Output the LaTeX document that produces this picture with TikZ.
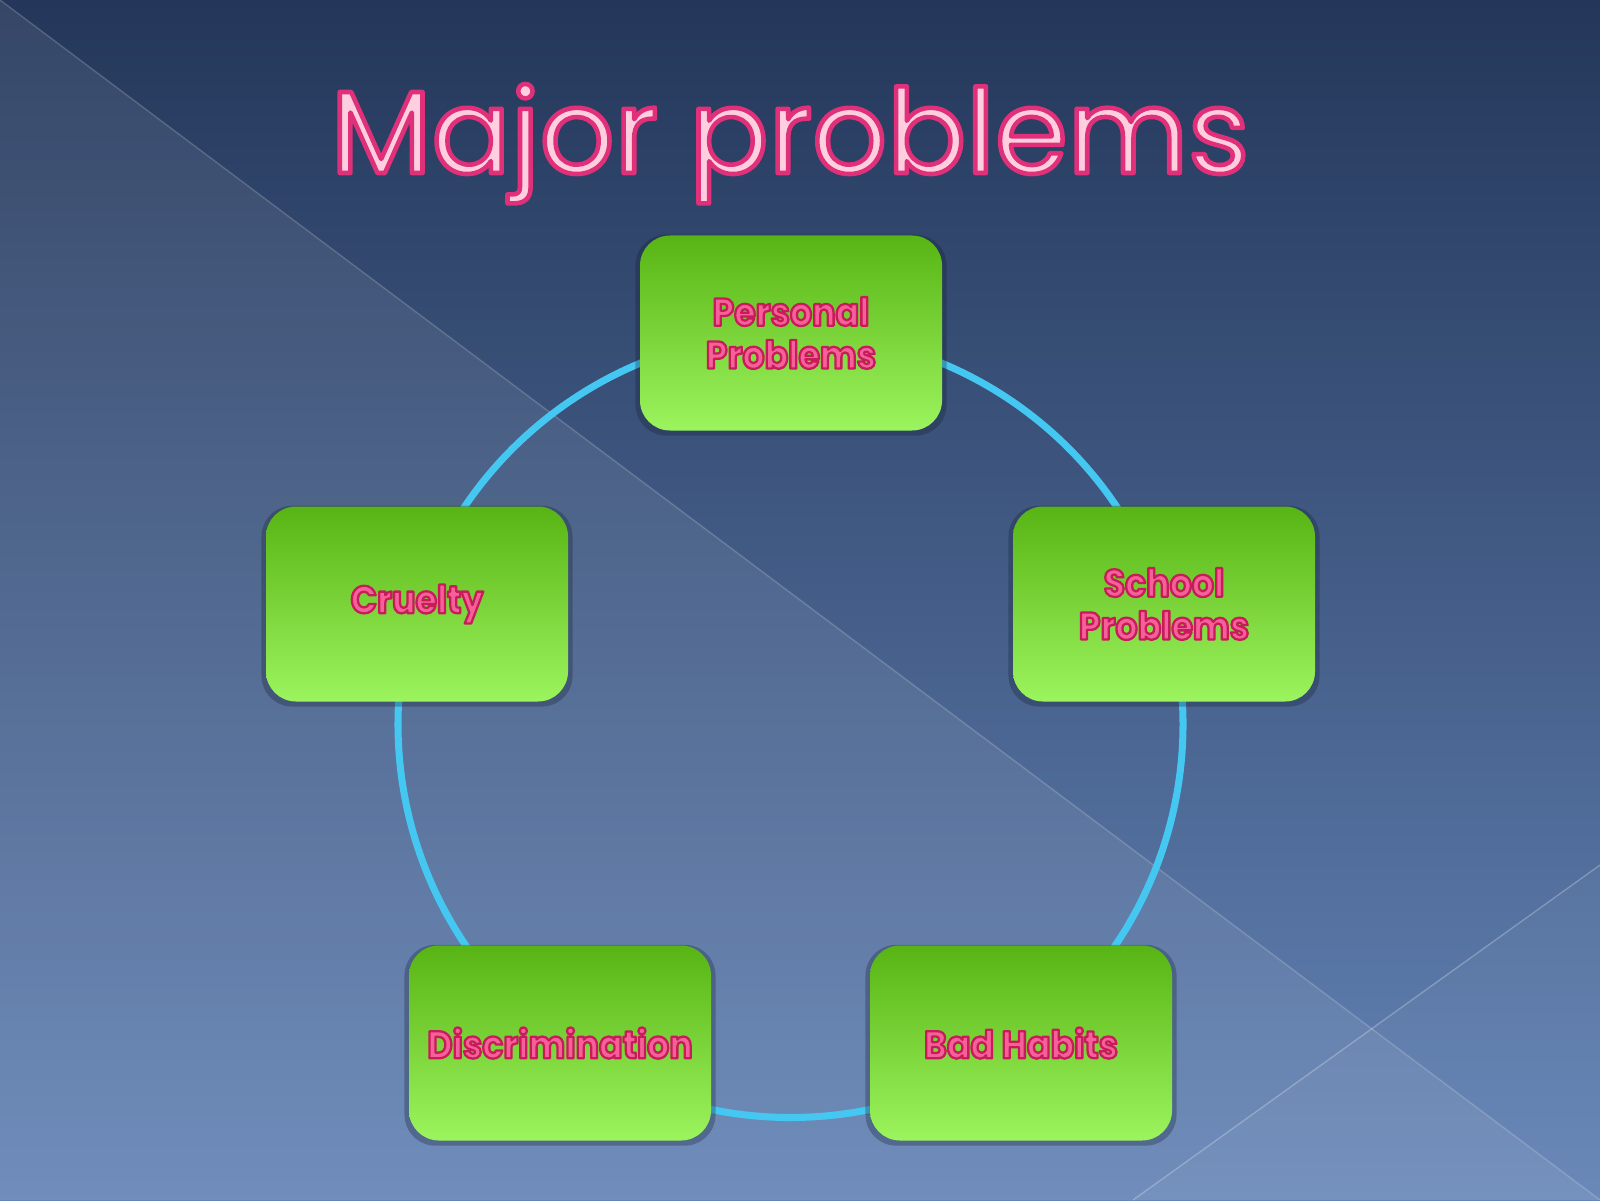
\documentclass[tikz,border=0pt]{standalone}
\usepackage{fontspec}
\usepackage{xcolor}
\usepackage{tikz}
\usetikzlibrary{positioning,backgrounds,shadows}
\setmainfont{Poppins}
\newfontfamily\labelfont{Poppins}[FakeStretch=0.9]
\definecolor{SlideTop}{HTML}{24375A}
\definecolor{SlideBottom}{HTML}{6484B6}
\definecolor{RingCyan}{HTML}{44C8F2}
\definecolor{BoxDark}{HTML}{58B414}
\definecolor{BoxLight}{HTML}{9CF45E}
\definecolor{TitleFill}{HTML}{FFCFDF}
\definecolor{LabelPink}{HTML}{F5609A}
% outlined text: stroke width, stroke rgb, fill colour, text
\newcommand{\outlined}[4]{{\color{#3}\special{pdf:literal direct #2 RG #1 w 1 j 2 Tr}#4\special{pdf:literal direct 0 Tr}}}
\newcommand{\problabel}[1]{\outlined{0.65}{0.78 0.11 0.35}{LabelPink}{#1}}

\begin{document}
\begin{tikzpicture}[
    problem/.style={
      rounded corners=3mm,
      top color=BoxDark,
      bottom color=BoxLight,
      minimum width=30.2mm,
      minimum height=19.5mm,
      align=center,
      inner sep=1mm,
      drop shadow={shadow scale=1.03, shadow xshift=0pt, shadow yshift=-0.6pt,
        opacity=0.3, fill=SlideTop!55!black},
      font=\labelfont\bfseries\fontsize{11}{12.2}\selectfont
    },
    headline/.style={
      anchor=base,
      inner sep=0pt,
      font=\fontsize{33.3}{35}\selectfont
    },
    ring/.style={
      draw=RingCyan,
      line width=2pt,
      looseness=0.94
    }
  ]
    \useasboundingbox (0,0) rectangle (16,12);

    \node[headline] (title) at (7.90,10.27) {\outlined{1.3}{0.88 0.19 0.48}{TitleFill}{Major problems}};

    \node[problem] (personal) at (7.91,8.67) {\problabel{Personal}\\\problabel{Problems}};
    \node[problem] (school) at (11.64,5.96) {\problabel{School}\\\problabel{Problems}};
    \node[problem] (habits) at (10.21,1.57) {\problabel{Bad Habits}};
    \node[problem] (discrim) at (5.60,1.57) {\problabel{Discrimination}};
    \node[problem] (cruelty) at (4.17,5.96) {\problabel{Cruelty}};

    \begin{scope}[on background layer]
      % slide backdrop
      \fill[top color=SlideTop, bottom color=SlideBottom] (0,0) rectangle (16,12);
      \fill[white, opacity=0.08] (0,12) -- (16,0) -- (0,0) -- cycle;
      \fill[white, opacity=0.04] (11.33,0) -- (16,3.35) -- (16,0) -- cycle;
      \draw[white, opacity=0.18, line width=0.4pt] (0,12) -- (16,0);
      \draw[white, opacity=0.25, line width=0.4pt] (11.33,0) -- (16,3.35);

      % ring through the five boxes
      \draw[ring] (personal.center) to[bend left=36] (school.center);
      \draw[ring] (school.center) to[bend left=36] (habits.center);
      \draw[ring] (habits.center) to[bend left=36] (discrim.center);
      \draw[ring] (discrim.center) to[bend left=36] (cruelty.center);
      \draw[ring] (cruelty.center) to[bend left=36] (personal.center);
    \end{scope}
  \end{tikzpicture}
\end{document}
